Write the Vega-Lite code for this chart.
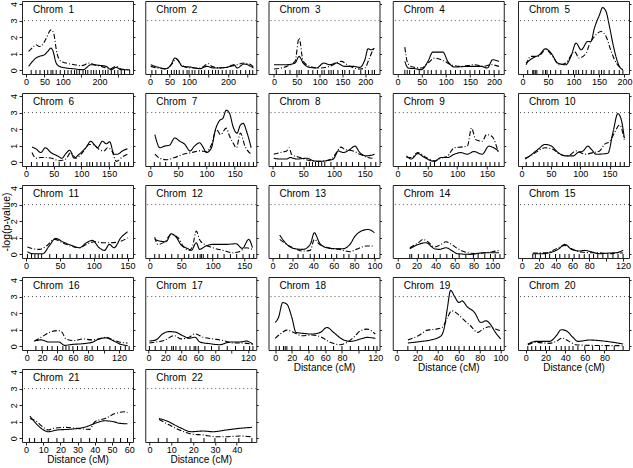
{
"$schema":"https://vega.github.io/schema/vega-lite/v6.json",
"padding":{"left":0,"top":0,"right":0,"bottom":0},
"config":{
 "font":"Liberation Sans",
 "view":{"stroke":"#222","strokeWidth":1},
 "axis":{"grid":false,"domain":false,"tickColor":"#222","tickSize":3,"labelFontSize":9,"labelColor":"#000","labelFont":"Liberation Sans","titleFont":"Liberation Sans","titleFontWeight":"normal","titleFontSize":10.5,"titleColor":"#000","labelPadding":1,"labelFlush":false,"labelOverlap":false},
 "axisX":{"labelPadding":0.5,"titlePadding":0,"titleFontSize":10,"labelOverlap":false,"labelSeparation":-20},
 "axisLeft":{"labelAngle":-90,"labelAlign":"center","labelBaseline":"bottom","labelPadding":1,"titlePadding":-2},
 "title":{"anchor":"start","frame":"group","orient":"top","offset":-14,"fontSize":10,"fontWeight":"normal","color":"#000","font":"Liberation Sans","baseline":"bottom"}
},
"datasets":{
"curves":[
{"c":1,"s":"a","p":7,"v":0.24},{"c":1,"s":"a","p":27,"v":0.74},{"c":1,"s":"a","p":36,"v":0.84},{"c":1,"s":"a","p":50,"v":0.94},{"c":1,"s":"a","p":59,"v":1.14},{"c":1,"s":"a","p":68,"v":1.34},{"c":1,"s":"a","p":73,"v":1.18},{"c":1,"s":"a","p":82,"v":0.44},{"c":1,"s":"a","p":91,"v":0.24},{"c":1,"s":"a","p":109,"v":0.14},{"c":1,"s":"a","p":127,"v":0.1},{"c":1,"s":"a","p":155,"v":0.04},{"c":1,"s":"a","p":177,"v":0.34},{"c":1,"s":"a","p":200,"v":0.3},{"c":1,"s":"a","p":218,"v":0.24},{"c":1,"s":"a","p":232,"v":0.04},{"c":1,"s":"a","p":245,"v":0.18},{"c":1,"s":"a","p":259,"v":0.04},{"c":1,"s":"a","p":282,"v":0.03},
{"c":1,"s":"b","p":7,"v":1.14},{"c":1,"s":"b","p":18,"v":1.38},{"c":1,"s":"b","p":27,"v":1.54},{"c":1,"s":"b","p":36,"v":1.44},{"c":1,"s":"b","p":45,"v":1.54},{"c":1,"s":"b","p":55,"v":1.94},{"c":1,"s":"b","p":68,"v":2.44},{"c":1,"s":"b","p":75,"v":2.24},{"c":1,"s":"b","p":84,"v":1.04},{"c":1,"s":"b","p":95,"v":0.54},{"c":1,"s":"b","p":109,"v":0.44},{"c":1,"s":"b","p":132,"v":0.34},{"c":1,"s":"b","p":150,"v":0.28},{"c":1,"s":"b","p":173,"v":0.44},{"c":1,"s":"b","p":186,"v":0.34},{"c":1,"s":"b","p":205,"v":0.24},{"c":1,"s":"b","p":227,"v":0.08},{"c":1,"s":"b","p":245,"v":0.24},{"c":1,"s":"b","p":259,"v":0.08},{"c":1,"s":"b","p":282,"v":0.03},
{"c":2,"s":"a","p":2,"v":0.34},{"c":2,"s":"a","p":19,"v":0.2},{"c":2,"s":"a","p":41,"v":0.1},{"c":2,"s":"a","p":54,"v":0.34},{"c":2,"s":"a","p":64,"v":0.74},{"c":2,"s":"a","p":71,"v":0.64},{"c":2,"s":"a","p":83,"v":0.24},{"c":2,"s":"a","p":102,"v":0.2},{"c":2,"s":"a","p":128,"v":0.1},{"c":2,"s":"a","p":145,"v":0.24},{"c":2,"s":"a","p":163,"v":0.14},{"c":2,"s":"a","p":197,"v":0.18},{"c":2,"s":"a","p":215,"v":0.34},{"c":2,"s":"a","p":223,"v":0.14},{"c":2,"s":"a","p":241,"v":0.38},{"c":2,"s":"a","p":258,"v":0.24},{"c":2,"s":"a","p":265,"v":0.14},
{"c":2,"s":"b","p":2,"v":0.24},{"c":2,"s":"b","p":41,"v":0.08},{"c":2,"s":"b","p":58,"v":0.44},{"c":2,"s":"b","p":67,"v":0.7},{"c":2,"s":"b","p":80,"v":0.34},{"c":2,"s":"b","p":102,"v":0.14},{"c":2,"s":"b","p":128,"v":0.14},{"c":2,"s":"b","p":150,"v":0.4},{"c":2,"s":"b","p":158,"v":0.24},{"c":2,"s":"b","p":180,"v":0.14},{"c":2,"s":"b","p":206,"v":0.24},{"c":2,"s":"b","p":223,"v":0.34},{"c":2,"s":"b","p":241,"v":0.44},{"c":2,"s":"b","p":258,"v":0.34},{"c":2,"s":"b","p":265,"v":0.18},
{"c":3,"s":"a","p":0,"v":0.34},{"c":3,"s":"a","p":28,"v":0.34},{"c":3,"s":"a","p":46,"v":0.44},{"c":3,"s":"a","p":55,"v":0.84},{"c":3,"s":"a","p":64,"v":0.44},{"c":3,"s":"a","p":75,"v":0.2},{"c":3,"s":"a","p":93,"v":0.14},{"c":3,"s":"a","p":109,"v":0.44},{"c":3,"s":"a","p":122,"v":0.34},{"c":3,"s":"a","p":137,"v":0.44},{"c":3,"s":"a","p":155,"v":0.24},{"c":3,"s":"a","p":173,"v":0.24},{"c":3,"s":"a","p":188,"v":0.18},{"c":3,"s":"a","p":199,"v":0.64},{"c":3,"s":"a","p":206,"v":1.3},{"c":3,"s":"a","p":213,"v":1.24},{"c":3,"s":"a","p":220,"v":1.34},
{"c":3,"s":"b","p":0,"v":0.08},{"c":3,"s":"b","p":28,"v":0.24},{"c":3,"s":"b","p":46,"v":0.54},{"c":3,"s":"b","p":55,"v":1.94},{"c":3,"s":"b","p":64,"v":0.54},{"c":3,"s":"b","p":79,"v":0.24},{"c":3,"s":"b","p":100,"v":0.14},{"c":3,"s":"b","p":122,"v":0.24},{"c":3,"s":"b","p":147,"v":0.54},{"c":3,"s":"b","p":166,"v":0.24},{"c":3,"s":"b","p":188,"v":0.08},{"c":3,"s":"b","p":199,"v":0.14},{"c":3,"s":"b","p":209,"v":0.74},{"c":3,"s":"b","p":217,"v":1.24},{"c":3,"s":"b","p":220,"v":1.34},
{"c":4,"s":"a","p":15,"v":0.54},{"c":4,"s":"a","p":22,"v":0.14},{"c":4,"s":"a","p":36,"v":0.1},{"c":4,"s":"a","p":49,"v":0.04},{"c":4,"s":"a","p":63,"v":0.54},{"c":4,"s":"a","p":73,"v":1.1},{"c":4,"s":"a","p":94,"v":1.1},{"c":4,"s":"a","p":104,"v":0.54},{"c":4,"s":"a","p":118,"v":0.2},{"c":4,"s":"a","p":145,"v":0.24},{"c":4,"s":"a","p":173,"v":0.24},{"c":4,"s":"a","p":186,"v":0.14},{"c":4,"s":"a","p":197,"v":0.64},{"c":4,"s":"a","p":210,"v":0.54},
{"c":4,"s":"b","p":15,"v":1.4},{"c":4,"s":"b","p":21,"v":0.44},{"c":4,"s":"b","p":32,"v":0.2},{"c":4,"s":"b","p":49,"v":0.14},{"c":4,"s":"b","p":63,"v":0.44},{"c":4,"s":"b","p":77,"v":0.74},{"c":4,"s":"b","p":94,"v":0.6},{"c":4,"s":"b","p":111,"v":0.34},{"c":4,"s":"b","p":132,"v":0.24},{"c":4,"s":"b","p":159,"v":0.34},{"c":4,"s":"b","p":179,"v":0.24},{"c":4,"s":"b","p":193,"v":0.34},{"c":4,"s":"b","p":210,"v":0.24},
{"c":5,"s":"a","p":7,"v":0.44},{"c":5,"s":"a","p":20,"v":0.74},{"c":5,"s":"a","p":33,"v":0.94},{"c":5,"s":"a","p":45,"v":1.3},{"c":5,"s":"a","p":56,"v":1.04},{"c":5,"s":"a","p":69,"v":0.44},{"c":5,"s":"a","p":85,"v":0.34},{"c":5,"s":"a","p":95,"v":0.84},{"c":5,"s":"a","p":105,"v":1.64},{"c":5,"s":"a","p":115,"v":1.24},{"c":5,"s":"a","p":128,"v":1.74},{"c":5,"s":"a","p":134,"v":1.74},{"c":5,"s":"a","p":141,"v":2.54},{"c":5,"s":"a","p":151,"v":3.34},{"c":5,"s":"a","p":157,"v":3.78},{"c":5,"s":"a","p":164,"v":3.54},{"c":5,"s":"a","p":170,"v":2.74},{"c":5,"s":"a","p":180,"v":1.24},{"c":5,"s":"a","p":190,"v":0.24},{"c":5,"s":"a","p":197,"v":0.04},
{"c":5,"s":"b","p":7,"v":0.34},{"c":5,"s":"b","p":16,"v":0.84},{"c":5,"s":"b","p":30,"v":0.84},{"c":5,"s":"b","p":46,"v":1.24},{"c":5,"s":"b","p":59,"v":0.84},{"c":5,"s":"b","p":72,"v":0.34},{"c":5,"s":"b","p":85,"v":0.44},{"c":5,"s":"b","p":102,"v":1.14},{"c":5,"s":"b","p":111,"v":0.74},{"c":5,"s":"b","p":125,"v":1.04},{"c":5,"s":"b","p":131,"v":1.54},{"c":5,"s":"b","p":144,"v":2.14},{"c":5,"s":"b","p":154,"v":2.34},{"c":5,"s":"b","p":164,"v":2.04},{"c":5,"s":"b","p":174,"v":1.14},{"c":5,"s":"b","p":184,"v":0.44},{"c":5,"s":"b","p":193,"v":0.14},
{"c":6,"s":"a","p":11,"v":0.92},{"c":6,"s":"a","p":18,"v":0.82},{"c":6,"s":"a","p":27,"v":0.59},{"c":6,"s":"a","p":35,"v":0.88},{"c":6,"s":"a","p":45,"v":0.59},{"c":6,"s":"a","p":57,"v":0.39},{"c":6,"s":"a","p":65,"v":0.25},{"c":6,"s":"a","p":72,"v":0.53},{"c":6,"s":"a","p":79,"v":0.73},{"c":6,"s":"a","p":87,"v":0.25},{"c":6,"s":"a","p":96,"v":0.49},{"c":6,"s":"a","p":108,"v":0.88},{"c":6,"s":"a","p":117,"v":1.27},{"c":6,"s":"a","p":123,"v":1.08},{"c":6,"s":"a","p":129,"v":0.88},{"c":6,"s":"a","p":138,"v":1.27},{"c":6,"s":"a","p":145,"v":1.12},{"c":6,"s":"a","p":151,"v":1.24},{"c":6,"s":"a","p":159,"v":0.49},{"c":6,"s":"a","p":165,"v":0.49},{"c":6,"s":"a","p":174,"v":0.69},{"c":6,"s":"a","p":183,"v":0.82},
{"c":6,"s":"b","p":11,"v":0.59},{"c":6,"s":"b","p":18,"v":0.25},{"c":6,"s":"b","p":27,"v":0.29},{"c":6,"s":"b","p":36,"v":0.29},{"c":6,"s":"b","p":48,"v":0.23},{"c":6,"s":"b","p":60,"v":0.1},{"c":6,"s":"b","p":72,"v":0.2},{"c":6,"s":"b","p":81,"v":0.59},{"c":6,"s":"b","p":90,"v":0.25},{"c":6,"s":"b","p":102,"v":0.59},{"c":6,"s":"b","p":114,"v":1.08},{"c":6,"s":"b","p":123,"v":1.04},{"c":6,"s":"b","p":132,"v":0.78},{"c":6,"s":"b","p":141,"v":0.69},{"c":6,"s":"b","p":147,"v":0.88},{"c":6,"s":"b","p":155,"v":0.69},{"c":6,"s":"b","p":163,"v":0.06},{"c":6,"s":"b","p":174,"v":0.33},{"c":6,"s":"b","p":183,"v":0.49},
{"c":7,"s":"a","p":9,"v":1.67},{"c":7,"s":"a","p":18,"v":0.88},{"c":7,"s":"a","p":26,"v":0.98},{"c":7,"s":"a","p":35,"v":1.04},{"c":7,"s":"a","p":44,"v":1.47},{"c":7,"s":"a","p":53,"v":1.27},{"c":7,"s":"a","p":62,"v":1.08},{"c":7,"s":"a","p":71,"v":0.69},{"c":7,"s":"a","p":79,"v":0.98},{"c":7,"s":"a","p":88,"v":1.18},{"c":7,"s":"a","p":94,"v":0.92},{"c":7,"s":"a","p":100,"v":0.59},{"c":7,"s":"a","p":109,"v":0.88},{"c":7,"s":"a","p":115,"v":1.86},{"c":7,"s":"a","p":124,"v":2.55},{"c":7,"s":"a","p":129,"v":2.65},{"c":7,"s":"a","p":135,"v":3.14},{"c":7,"s":"a","p":141,"v":2.94},{"c":7,"s":"a","p":147,"v":2.16},{"c":7,"s":"a","p":154,"v":1.76},{"c":7,"s":"a","p":160,"v":2.25},{"c":7,"s":"a","p":165,"v":2.35},{"c":7,"s":"a","p":171,"v":1.86},{"c":7,"s":"a","p":179,"v":0.88},
{"c":7,"s":"b","p":9,"v":0.49},{"c":7,"s":"b","p":18,"v":0.24},{"c":7,"s":"b","p":29,"v":0.16},{"c":7,"s":"b","p":44,"v":0.29},{"c":7,"s":"b","p":59,"v":0.49},{"c":7,"s":"b","p":74,"v":0.59},{"c":7,"s":"b","p":88,"v":0.69},{"c":7,"s":"b","p":100,"v":0.65},{"c":7,"s":"b","p":109,"v":1.08},{"c":7,"s":"b","p":118,"v":1.96},{"c":7,"s":"b","p":125,"v":1.67},{"c":7,"s":"b","p":135,"v":2.06},{"c":7,"s":"b","p":141,"v":1.57},{"c":7,"s":"b","p":147,"v":1.18},{"c":7,"s":"b","p":153,"v":0.88},{"c":7,"s":"b","p":160,"v":1.76},{"c":7,"s":"b","p":168,"v":0.98},{"c":7,"s":"b","p":179,"v":0.49},
{"c":8,"s":"a","p":2,"v":0.25},{"c":8,"s":"a","p":12,"v":0.2},{"c":8,"s":"a","p":23,"v":0.2},{"c":8,"s":"a","p":29,"v":0.29},{"c":8,"s":"a","p":39,"v":0.2},{"c":8,"s":"a","p":56,"v":0.25},{"c":8,"s":"a","p":66,"v":0.1},{"c":8,"s":"a","p":77,"v":0.06},{"c":8,"s":"a","p":88,"v":0.1},{"c":8,"s":"a","p":99,"v":0.2},{"c":8,"s":"a","p":107,"v":0.69},{"c":8,"s":"a","p":115,"v":0.59},{"c":8,"s":"a","p":126,"v":0.78},{"c":8,"s":"a","p":134,"v":0.98},{"c":8,"s":"a","p":142,"v":0.59},{"c":8,"s":"a","p":153,"v":0.39},{"c":8,"s":"a","p":166,"v":0.49},
{"c":8,"s":"b","p":2,"v":0.49},{"c":8,"s":"b","p":12,"v":0.59},{"c":8,"s":"b","p":23,"v":0.69},{"c":8,"s":"b","p":27,"v":0.88},{"c":8,"s":"b","p":31,"v":0.49},{"c":8,"s":"b","p":45,"v":0.29},{"c":8,"s":"b","p":61,"v":0.1},{"c":8,"s":"b","p":77,"v":0.06},{"c":8,"s":"b","p":96,"v":0.2},{"c":8,"s":"b","p":104,"v":0.59},{"c":8,"s":"b","p":111,"v":0.92},{"c":8,"s":"b","p":118,"v":0.78},{"c":8,"s":"b","p":131,"v":0.69},{"c":8,"s":"b","p":142,"v":0.49},{"c":8,"s":"b","p":155,"v":0.29},{"c":8,"s":"b","p":166,"v":0.24},
{"c":9,"s":"a","p":15,"v":0.39},{"c":9,"s":"a","p":23,"v":0.2},{"c":9,"s":"a","p":34,"v":0.53},{"c":9,"s":"a","p":45,"v":0.29},{"c":9,"s":"a","p":62,"v":0.06},{"c":9,"s":"a","p":73,"v":0.29},{"c":9,"s":"a","p":84,"v":0.29},{"c":9,"s":"a","p":95,"v":0.49},{"c":9,"s":"a","p":106,"v":0.59},{"c":9,"s":"a","p":117,"v":0.49},{"c":9,"s":"a","p":128,"v":0.65},{"c":9,"s":"a","p":142,"v":0.49},{"c":9,"s":"a","p":153,"v":0.98},{"c":9,"s":"a","p":161,"v":0.88},{"c":9,"s":"a","p":169,"v":0.69},
{"c":9,"s":"b","p":15,"v":0.29},{"c":9,"s":"b","p":23,"v":0.29},{"c":9,"s":"b","p":34,"v":0.59},{"c":9,"s":"b","p":48,"v":0.29},{"c":9,"s":"b","p":62,"v":0.1},{"c":9,"s":"b","p":73,"v":0.25},{"c":9,"s":"b","p":84,"v":0.39},{"c":9,"s":"b","p":95,"v":0.88},{"c":9,"s":"b","p":106,"v":0.92},{"c":9,"s":"b","p":117,"v":0.98},{"c":9,"s":"b","p":124,"v":2.06},{"c":9,"s":"b","p":131,"v":1.37},{"c":9,"s":"b","p":142,"v":1.27},{"c":9,"s":"b","p":149,"v":1.67},{"c":9,"s":"b","p":158,"v":1.57},{"c":9,"s":"b","p":169,"v":0.59},
{"c":10,"s":"a","p":6,"v":0.2},{"c":10,"s":"a","p":14,"v":0.39},{"c":10,"s":"a","p":28,"v":0.78},{"c":10,"s":"a","p":40,"v":1.08},{"c":10,"s":"a","p":51,"v":0.98},{"c":10,"s":"a","p":62,"v":0.59},{"c":10,"s":"a","p":76,"v":0.39},{"c":10,"s":"a","p":88,"v":0.39},{"c":10,"s":"a","p":96,"v":0.59},{"c":10,"s":"a","p":105,"v":0.69},{"c":10,"s":"a","p":113,"v":0.98},{"c":10,"s":"a","p":119,"v":0.78},{"c":10,"s":"a","p":127,"v":0.49},{"c":10,"s":"a","p":147,"v":0.55},{"c":10,"s":"a","p":156,"v":1.86},{"c":10,"s":"a","p":164,"v":2.94},{"c":10,"s":"a","p":170,"v":2.55},{"c":10,"s":"a","p":175,"v":1.47},
{"c":10,"s":"b","p":6,"v":0.24},{"c":10,"s":"b","p":17,"v":0.43},{"c":10,"s":"b","p":28,"v":0.69},{"c":10,"s":"b","p":40,"v":0.88},{"c":10,"s":"b","p":54,"v":0.78},{"c":10,"s":"b","p":65,"v":0.49},{"c":10,"s":"b","p":79,"v":0.39},{"c":10,"s":"b","p":93,"v":0.69},{"c":10,"s":"b","p":108,"v":0.49},{"c":10,"s":"b","p":122,"v":0.59},{"c":10,"s":"b","p":133,"v":0.69},{"c":10,"s":"b","p":141,"v":1.08},{"c":10,"s":"b","p":150,"v":1.27},{"c":10,"s":"b","p":158,"v":1.76},{"c":10,"s":"b","p":167,"v":2.25},{"c":10,"s":"b","p":175,"v":1.37},
{"c":11,"s":"a","p":2,"v":0.16},{"c":11,"s":"a","p":10,"v":0.04},{"c":11,"s":"a","p":17,"v":0.04},{"c":11,"s":"a","p":25,"v":0.04},{"c":11,"s":"a","p":34,"v":0.5},{"c":11,"s":"a","p":44,"v":0.96},{"c":11,"s":"a","p":54,"v":0.76},{"c":11,"s":"a","p":66,"v":0.56},{"c":11,"s":"a","p":79,"v":0.4},{"c":11,"s":"a","p":89,"v":0.7},{"c":11,"s":"a","p":98,"v":0.84},{"c":11,"s":"a","p":108,"v":0.4},{"c":11,"s":"a","p":116,"v":0.24},{"c":11,"s":"a","p":123,"v":0.6},{"c":11,"s":"a","p":130,"v":0.4},{"c":11,"s":"a","p":140,"v":1.0},{"c":11,"s":"a","p":150,"v":1.36},
{"c":11,"s":"b","p":2,"v":0.44},{"c":11,"s":"b","p":10,"v":0.34},{"c":11,"s":"b","p":20,"v":0.3},{"c":11,"s":"b","p":30,"v":0.5},{"c":11,"s":"b","p":42,"v":0.9},{"c":11,"s":"b","p":54,"v":0.7},{"c":11,"s":"b","p":66,"v":0.5},{"c":11,"s":"b","p":79,"v":0.4},{"c":11,"s":"b","p":89,"v":0.6},{"c":11,"s":"b","p":101,"v":0.76},{"c":11,"s":"b","p":113,"v":0.7},{"c":11,"s":"b","p":125,"v":0.7},{"c":11,"s":"b","p":138,"v":0.76},{"c":11,"s":"b","p":150,"v":1.0},
{"c":12,"s":"a","p":8,"v":0.9},{"c":12,"s":"a","p":16,"v":0.8},{"c":12,"s":"a","p":26,"v":0.76},{"c":12,"s":"a","p":34,"v":1.24},{"c":12,"s":"a","p":42,"v":1.04},{"c":12,"s":"a","p":50,"v":0.56},{"c":12,"s":"a","p":61,"v":0.34},{"c":12,"s":"a","p":66,"v":0.24},{"c":12,"s":"a","p":74,"v":0.7},{"c":12,"s":"a","p":79,"v":0.3},{"c":12,"s":"a","p":89,"v":0.5},{"c":12,"s":"a","p":100,"v":0.6},{"c":12,"s":"a","p":121,"v":0.6},{"c":12,"s":"a","p":137,"v":0.64},{"c":12,"s":"a","p":147,"v":0.36},{"c":12,"s":"a","p":157,"v":0.9},{"c":12,"s":"a","p":163,"v":0.4},
{"c":12,"s":"b","p":8,"v":1.04},{"c":12,"s":"b","p":13,"v":0.6},{"c":12,"s":"b","p":24,"v":0.76},{"c":12,"s":"b","p":34,"v":1.2},{"c":12,"s":"b","p":45,"v":1.0},{"c":12,"s":"b","p":53,"v":0.5},{"c":12,"s":"b","p":63,"v":0.24},{"c":12,"s":"b","p":68,"v":0.5},{"c":12,"s":"b","p":74,"v":1.4},{"c":12,"s":"b","p":79,"v":0.9},{"c":12,"s":"b","p":87,"v":0.6},{"c":12,"s":"b","p":100,"v":0.4},{"c":12,"s":"b","p":116,"v":0.24},{"c":12,"s":"b","p":132,"v":0.1},{"c":12,"s":"b","p":142,"v":0.16},{"c":12,"s":"b","p":153,"v":0.4},{"c":12,"s":"b","p":163,"v":0.3},
{"c":13,"s":"a","p":7,"v":1.16},{"c":13,"s":"a","p":14,"v":0.6},{"c":13,"s":"a","p":22,"v":0.34},{"c":13,"s":"a","p":30,"v":0.3},{"c":13,"s":"a","p":37,"v":0.6},{"c":13,"s":"a","p":41,"v":1.3},{"c":13,"s":"a","p":46,"v":0.7},{"c":13,"s":"a","p":53,"v":0.4},{"c":13,"s":"a","p":61,"v":0.34},{"c":13,"s":"a","p":69,"v":0.34},{"c":13,"s":"a","p":76,"v":0.6},{"c":13,"s":"a","p":81,"v":1.1},{"c":13,"s":"a","p":87,"v":1.4},{"c":13,"s":"a","p":94,"v":1.5},{"c":13,"s":"a","p":100,"v":1.3},
{"c":13,"s":"b","p":7,"v":0.9},{"c":13,"s":"b","p":14,"v":0.6},{"c":13,"s":"b","p":22,"v":0.34},{"c":13,"s":"b","p":30,"v":0.2},{"c":13,"s":"b","p":37,"v":0.24},{"c":13,"s":"b","p":41,"v":0.9},{"c":13,"s":"b","p":46,"v":0.6},{"c":13,"s":"b","p":55,"v":0.4},{"c":13,"s":"b","p":66,"v":0.3},{"c":13,"s":"b","p":76,"v":0.16},{"c":13,"s":"b","p":82,"v":0.3},{"c":13,"s":"b","p":92,"v":0.5},{"c":13,"s":"b","p":100,"v":0.5},
{"c":14,"s":"a","p":13,"v":0.34},{"c":14,"s":"a","p":22,"v":0.6},{"c":14,"s":"a","p":30,"v":0.7},{"c":14,"s":"a","p":39,"v":0.34},{"c":14,"s":"a","p":44,"v":0.3},{"c":14,"s":"a","p":51,"v":0.4},{"c":14,"s":"a","p":58,"v":0.2},{"c":14,"s":"a","p":63,"v":0.04},{"c":14,"s":"a","p":77,"v":0.0},{"c":14,"s":"a","p":88,"v":0.08},{"c":14,"s":"a","p":102,"v":0.1},{"c":14,"s":"a","p":107,"v":0.1},
{"c":14,"s":"b","p":13,"v":0.4},{"c":14,"s":"b","p":22,"v":0.7},{"c":14,"s":"b","p":27,"v":0.9},{"c":14,"s":"b","p":32,"v":0.76},{"c":14,"s":"b","p":39,"v":0.44},{"c":14,"s":"b","p":46,"v":0.6},{"c":14,"s":"b","p":51,"v":0.76},{"c":14,"s":"b","p":56,"v":0.64},{"c":14,"s":"b","p":63,"v":0.36},{"c":14,"s":"b","p":74,"v":0.1},{"c":14,"s":"b","p":83,"v":0.04},{"c":14,"s":"b","p":91,"v":0.1},{"c":14,"s":"b","p":100,"v":0.16},{"c":14,"s":"b","p":107,"v":0.24},
{"c":15,"s":"a","p":13,"v":0.04},{"c":15,"s":"a","p":25,"v":0.04},{"c":15,"s":"a","p":33,"v":0.1},{"c":15,"s":"a","p":43,"v":0.3},{"c":15,"s":"a","p":51,"v":0.6},{"c":15,"s":"a","p":59,"v":0.3},{"c":15,"s":"a","p":69,"v":0.2},{"c":15,"s":"a","p":74,"v":0.24},{"c":15,"s":"a","p":82,"v":0.16},{"c":15,"s":"a","p":92,"v":0.04},{"c":15,"s":"a","p":104,"v":0.08},{"c":15,"s":"a","p":112,"v":0.1},{"c":15,"s":"a","p":120,"v":0.24},
{"c":15,"s":"b","p":13,"v":0.08},{"c":15,"s":"b","p":29,"v":0.1},{"c":15,"s":"b","p":41,"v":0.34},{"c":15,"s":"b","p":51,"v":0.54},{"c":15,"s":"b","p":59,"v":0.34},{"c":15,"s":"b","p":70,"v":0.14},{"c":15,"s":"b","p":80,"v":0.1},{"c":15,"s":"b","p":92,"v":0.1},{"c":15,"s":"b","p":104,"v":0.04},{"c":15,"s":"b","p":114,"v":0.08},{"c":15,"s":"b","p":120,"v":0.08},
{"c":16,"s":"a","p":10,"v":0.32},{"c":16,"s":"a","p":19,"v":0.39},{"c":16,"s":"a","p":29,"v":0.26},{"c":16,"s":"a","p":42,"v":0.26},{"c":16,"s":"a","p":49,"v":0.06},{"c":16,"s":"a","p":60,"v":0.12},{"c":16,"s":"a","p":73,"v":0.16},{"c":16,"s":"a","p":86,"v":0.26},{"c":16,"s":"a","p":94,"v":0.45},{"c":16,"s":"a","p":103,"v":0.51},{"c":16,"s":"a","p":112,"v":0.35},{"c":16,"s":"a","p":120,"v":0.16},{"c":16,"s":"a","p":131,"v":0.04},
{"c":16,"s":"b","p":10,"v":0.32},{"c":16,"s":"b","p":19,"v":0.55},{"c":16,"s":"b","p":29,"v":0.83},{"c":16,"s":"b","p":40,"v":0.95},{"c":16,"s":"b","p":45,"v":0.9},{"c":16,"s":"b","p":51,"v":0.45},{"c":16,"s":"b","p":62,"v":0.35},{"c":16,"s":"b","p":73,"v":0.45},{"c":16,"s":"b","p":84,"v":0.39},{"c":16,"s":"b","p":94,"v":0.45},{"c":16,"s":"b","p":103,"v":0.55},{"c":16,"s":"b","p":112,"v":0.39},{"c":16,"s":"b","p":120,"v":0.26},{"c":16,"s":"b","p":131,"v":0.2},
{"c":17,"s":"a","p":1,"v":0.32},{"c":17,"s":"a","p":9,"v":0.39},{"c":17,"s":"a","p":17,"v":0.75},{"c":17,"s":"a","p":25,"v":0.89},{"c":17,"s":"a","p":33,"v":0.85},{"c":17,"s":"a","p":41,"v":0.65},{"c":17,"s":"a","p":49,"v":0.49},{"c":17,"s":"a","p":56,"v":0.55},{"c":17,"s":"a","p":62,"v":0.26},{"c":17,"s":"a","p":74,"v":0.16},{"c":17,"s":"a","p":86,"v":0.1},{"c":17,"s":"a","p":98,"v":0.26},{"c":17,"s":"a","p":110,"v":0.26},{"c":17,"s":"a","p":118,"v":0.32},{"c":17,"s":"a","p":126,"v":0.12},
{"c":17,"s":"b","p":1,"v":0.2},{"c":17,"s":"b","p":9,"v":0.26},{"c":17,"s":"b","p":19,"v":0.35},{"c":17,"s":"b","p":31,"v":0.65},{"c":17,"s":"b","p":39,"v":0.45},{"c":17,"s":"b","p":49,"v":0.55},{"c":17,"s":"b","p":56,"v":0.75},{"c":17,"s":"b","p":66,"v":0.55},{"c":17,"s":"b","p":78,"v":0.45},{"c":17,"s":"b","p":90,"v":0.35},{"c":17,"s":"b","p":102,"v":0.2},{"c":17,"s":"b","p":114,"v":0.2},{"c":17,"s":"b","p":126,"v":0.12},
{"c":18,"s":"a","p":0,"v":1.44},{"c":18,"s":"a","p":4,"v":1.74},{"c":18,"s":"a","p":9,"v":2.64},{"c":18,"s":"a","p":14,"v":2.54},{"c":18,"s":"a","p":20,"v":1.74},{"c":18,"s":"a","p":25,"v":0.84},{"c":18,"s":"a","p":34,"v":0.78},{"c":18,"s":"a","p":44,"v":0.74},{"c":18,"s":"a","p":54,"v":0.84},{"c":18,"s":"a","p":62,"v":1.14},{"c":18,"s":"a","p":70,"v":0.84},{"c":18,"s":"a","p":80,"v":0.44},{"c":18,"s":"a","p":90,"v":0.3},{"c":18,"s":"a","p":102,"v":0.44},{"c":18,"s":"a","p":110,"v":0.54},{"c":18,"s":"a","p":120,"v":0.48},
{"c":18,"s":"b","p":0,"v":0.48},{"c":18,"s":"b","p":6,"v":0.74},{"c":18,"s":"b","p":14,"v":0.98},{"c":18,"s":"b","p":22,"v":0.84},{"c":18,"s":"b","p":32,"v":0.64},{"c":18,"s":"b","p":44,"v":0.68},{"c":18,"s":"b","p":56,"v":0.54},{"c":18,"s":"b","p":66,"v":0.24},{"c":18,"s":"b","p":78,"v":0.1},{"c":18,"s":"b","p":86,"v":0.24},{"c":18,"s":"b","p":94,"v":0.54},{"c":18,"s":"b","p":102,"v":0.94},{"c":18,"s":"b","p":110,"v":1.04},{"c":18,"s":"b","p":120,"v":0.74},
{"c":19,"s":"a","p":11,"v":0.2},{"c":19,"s":"a","p":24,"v":0.3},{"c":19,"s":"a","p":33,"v":0.38},{"c":19,"s":"a","p":43,"v":0.64},{"c":19,"s":"a","p":46,"v":1.14},{"c":19,"s":"a","p":49,"v":2.34},{"c":19,"s":"a","p":52,"v":3.38},{"c":19,"s":"a","p":56,"v":2.98},{"c":19,"s":"a","p":60,"v":2.64},{"c":19,"s":"a","p":63,"v":2.74},{"c":19,"s":"a","p":68,"v":2.38},{"c":19,"s":"a","p":75,"v":2.04},{"c":19,"s":"a","p":81,"v":1.44},{"c":19,"s":"a","p":86,"v":1.54},{"c":19,"s":"a","p":90,"v":1.34},{"c":19,"s":"a","p":95,"v":0.84},{"c":19,"s":"a","p":100,"v":0.44},
{"c":19,"s":"b","p":11,"v":0.38},{"c":19,"s":"b","p":21,"v":0.64},{"c":19,"s":"b","p":30,"v":0.98},{"c":19,"s":"b","p":38,"v":1.04},{"c":19,"s":"b","p":44,"v":1.14},{"c":19,"s":"b","p":49,"v":1.74},{"c":19,"s":"b","p":53,"v":2.14},{"c":19,"s":"b","p":59,"v":1.94},{"c":19,"s":"b","p":65,"v":1.58},{"c":19,"s":"b","p":71,"v":1.24},{"c":19,"s":"b","p":78,"v":0.84},{"c":19,"s":"b","p":83,"v":1.04},{"c":19,"s":"b","p":89,"v":1.18},{"c":19,"s":"b","p":95,"v":1.04},{"c":19,"s":"b","p":100,"v":0.94},
{"c":20,"s":"a","p":2,"v":0.14},{"c":20,"s":"a","p":10,"v":0.3},{"c":20,"s":"a","p":24,"v":0.3},{"c":20,"s":"a","p":31,"v":0.64},{"c":20,"s":"a","p":36,"v":1.0},{"c":20,"s":"a","p":41,"v":0.94},{"c":20,"s":"a","p":48,"v":0.54},{"c":20,"s":"a","p":53,"v":0.3},{"c":20,"s":"a","p":65,"v":0.38},{"c":20,"s":"a","p":82,"v":0.3},{"c":20,"s":"a","p":99,"v":0.14},
{"c":20,"s":"b","p":2,"v":0.1},{"c":20,"s":"b","p":10,"v":0.24},{"c":20,"s":"b","p":24,"v":0.18},{"c":20,"s":"b","p":31,"v":0.3},{"c":20,"s":"b","p":37,"v":0.5},{"c":20,"s":"b","p":44,"v":0.3},{"c":20,"s":"b","p":51,"v":0.1},{"c":20,"s":"b","p":65,"v":0.06},{"c":20,"s":"b","p":99,"v":0.04},
{"c":21,"s":"a","p":2.3,"v":1.34},{"c":21,"s":"a","p":5.8,"v":0.9},{"c":21,"s":"a","p":9.7,"v":0.54},{"c":21,"s":"a","p":13,"v":0.4},{"c":21,"s":"a","p":18,"v":0.5},{"c":21,"s":"a","p":27,"v":0.56},{"c":21,"s":"a","p":35,"v":0.7},{"c":21,"s":"a","p":41,"v":0.94},{"c":21,"s":"a","p":46,"v":1.06},{"c":21,"s":"a","p":51,"v":1.0},{"c":21,"s":"a","p":55,"v":0.9},{"c":21,"s":"a","p":59,"v":0.88},
{"c":21,"s":"b","p":2.3,"v":1.2},{"c":21,"s":"b","p":5.8,"v":1.04},{"c":21,"s":"b","p":9.7,"v":0.7},{"c":21,"s":"b","p":13,"v":0.5},{"c":21,"s":"b","p":15.5,"v":0.6},{"c":21,"s":"b","p":23,"v":0.66},{"c":21,"s":"b","p":30,"v":0.6},{"c":21,"s":"b","p":37,"v":0.54},{"c":21,"s":"b","p":40,"v":1.0},{"c":21,"s":"b","p":46,"v":1.2},{"c":21,"s":"b","p":52,"v":1.5},{"c":21,"s":"b","p":57,"v":1.6},{"c":21,"s":"b","p":59,"v":1.56},
{"c":22,"s":"a","p":4.3,"v":1.2},{"c":22,"s":"a","p":7.7,"v":1.06},{"c":22,"s":"a","p":13.8,"v":0.66},{"c":22,"s":"a","p":19.2,"v":0.4},{"c":22,"s":"a","p":24.6,"v":0.44},{"c":22,"s":"a","p":29,"v":0.4},{"c":22,"s":"a","p":35,"v":0.5},{"c":22,"s":"a","p":41,"v":0.6},{"c":22,"s":"a","p":47,"v":0.66},
{"c":22,"s":"b","p":4.3,"v":1.14},{"c":22,"s":"b","p":7.7,"v":0.9},{"c":22,"s":"b","p":13.8,"v":0.5},{"c":22,"s":"b","p":19.2,"v":0.26},{"c":22,"s":"b","p":24.6,"v":0.2},{"c":22,"s":"b","p":30,"v":0.1},{"c":22,"s":"b","p":35,"v":0.1},{"c":22,"s":"b","p":41.5,"v":0.14},{"c":22,"s":"b","p":47,"v":0.1}
],
"markers":[
{"c":1,"p":14},{"c":1,"p":27},{"c":1,"p":38},{"c":1,"p":50},{"c":1,"p":59},{"c":1,"p":68},{"c":1,"p":73},{"c":1,"p":82},{"c":1,"p":93},{"c":1,"p":105},{"c":1,"p":114},{"c":1,"p":123},{"c":1,"p":132},{"c":1,"p":138},{"c":1,"p":145},{"c":1,"p":155},{"c":1,"p":162},{"c":1,"p":168},{"c":1,"p":177},{"c":1,"p":184},{"c":1,"p":191},{"c":1,"p":200},{"c":1,"p":209},{"c":1,"p":216},{"c":1,"p":223},{"c":1,"p":232},{"c":1,"p":241},{"c":1,"p":250},{"c":1,"p":259},{"c":1,"p":268},{"c":1,"p":282},
{"c":2,"p":5},{"c":2,"p":15},{"c":2,"p":30},{"c":2,"p":45},{"c":2,"p":55},{"c":2,"p":62},{"c":2,"p":68},{"c":2,"p":75},{"c":2,"p":85},{"c":2,"p":95},{"c":2,"p":100},{"c":2,"p":108},{"c":2,"p":115},{"c":2,"p":125},{"c":2,"p":132},{"c":2,"p":140},{"c":2,"p":150},{"c":2,"p":160},{"c":2,"p":168},{"c":2,"p":175},{"c":2,"p":185},{"c":2,"p":195},{"c":2,"p":205},{"c":2,"p":212},{"c":2,"p":222},{"c":2,"p":232},{"c":2,"p":245},{"c":2,"p":255},{"c":2,"p":263},
{"c":3,"p":5},{"c":3,"p":25},{"c":3,"p":35},{"c":3,"p":50},{"c":3,"p":55},{"c":3,"p":60},{"c":3,"p":75},{"c":3,"p":85},{"c":3,"p":95},{"c":3,"p":105},{"c":3,"p":110},{"c":3,"p":120},{"c":3,"p":125},{"c":3,"p":130},{"c":3,"p":140},{"c":3,"p":150},{"c":3,"p":155},{"c":3,"p":165},{"c":3,"p":175},{"c":3,"p":190},{"c":3,"p":200},{"c":3,"p":207},{"c":3,"p":215},{"c":3,"p":220},
{"c":4,"p":15},{"c":4,"p":20},{"c":4,"p":25},{"c":4,"p":35},{"c":4,"p":45},{"c":4,"p":55},{"c":4,"p":63},{"c":4,"p":70},{"c":4,"p":80},{"c":4,"p":90},{"c":4,"p":100},{"c":4,"p":110},{"c":4,"p":120},{"c":4,"p":130},{"c":4,"p":140},{"c":4,"p":150},{"c":4,"p":160},{"c":4,"p":170},{"c":4,"p":180},{"c":4,"p":190},{"c":4,"p":200},{"c":4,"p":210},
{"c":5,"p":10},{"c":5,"p":20},{"c":5,"p":22},{"c":5,"p":25},{"c":5,"p":28},{"c":5,"p":40},{"c":5,"p":45},{"c":5,"p":48},{"c":5,"p":55},{"c":5,"p":65},{"c":5,"p":75},{"c":5,"p":90},{"c":5,"p":100},{"c":5,"p":105},{"c":5,"p":110},{"c":5,"p":118},{"c":5,"p":125},{"c":5,"p":135},{"c":5,"p":140},{"c":5,"p":150},{"c":5,"p":155},{"c":5,"p":160},{"c":5,"p":170},{"c":5,"p":180},{"c":5,"p":190},{"c":5,"p":197},
{"c":6,"p":10},{"c":6,"p":20},{"c":6,"p":30},{"c":6,"p":40},{"c":6,"p":50},{"c":6,"p":60},{"c":6,"p":70},{"c":6,"p":80},{"c":6,"p":90},{"c":6,"p":100},{"c":6,"p":110},{"c":6,"p":115},{"c":6,"p":120},{"c":6,"p":128},{"c":6,"p":135},{"c":6,"p":142},{"c":6,"p":150},{"c":6,"p":160},{"c":6,"p":170},{"c":6,"p":178},{"c":6,"p":185},
{"c":7,"p":8},{"c":7,"p":18},{"c":7,"p":28},{"c":7,"p":38},{"c":7,"p":48},{"c":7,"p":58},{"c":7,"p":68},{"c":7,"p":78},{"c":7,"p":88},{"c":7,"p":98},{"c":7,"p":105},{"c":7,"p":112},{"c":7,"p":118},{"c":7,"p":125},{"c":7,"p":132},{"c":7,"p":140},{"c":7,"p":148},{"c":7,"p":155},{"c":7,"p":160},{"c":7,"p":168},{"c":7,"p":175},{"c":7,"p":183},
{"c":8,"p":5},{"c":8,"p":15},{"c":8,"p":28},{"c":8,"p":35},{"c":8,"p":45},{"c":8,"p":55},{"c":8,"p":60},{"c":8,"p":65},{"c":8,"p":70},{"c":8,"p":75},{"c":8,"p":80},{"c":8,"p":85},{"c":8,"p":95},{"c":8,"p":105},{"c":8,"p":112},{"c":8,"p":120},{"c":8,"p":130},{"c":8,"p":140},{"c":8,"p":150},{"c":8,"p":160},{"c":8,"p":168},
{"c":9,"p":15},{"c":9,"p":22},{"c":9,"p":30},{"c":9,"p":38},{"c":9,"p":48},{"c":9,"p":55},{"c":9,"p":62},{"c":9,"p":72},{"c":9,"p":80},{"c":9,"p":88},{"c":9,"p":95},{"c":9,"p":102},{"c":9,"p":110},{"c":9,"p":118},{"c":9,"p":125},{"c":9,"p":132},{"c":9,"p":140},{"c":9,"p":148},{"c":9,"p":155},{"c":9,"p":163},{"c":9,"p":170},
{"c":10,"p":8},{"c":10,"p":20},{"c":10,"p":30},{"c":10,"p":38},{"c":10,"p":45},{"c":10,"p":52},{"c":10,"p":60},{"c":10,"p":70},{"c":10,"p":80},{"c":10,"p":90},{"c":10,"p":95},{"c":10,"p":100},{"c":10,"p":108},{"c":10,"p":115},{"c":10,"p":122},{"c":10,"p":130},{"c":10,"p":138},{"c":10,"p":145},{"c":10,"p":152},{"c":10,"p":160},{"c":10,"p":168},{"c":10,"p":175},
{"c":11,"p":2},{"c":11,"p":8},{"c":11,"p":13},{"c":11,"p":18},{"c":11,"p":23},{"c":11,"p":35},{"c":11,"p":45},{"c":11,"p":55},{"c":11,"p":65},{"c":11,"p":75},{"c":11,"p":85},{"c":11,"p":95},{"c":11,"p":102},{"c":11,"p":108},{"c":11,"p":113},{"c":11,"p":120},{"c":11,"p":128},{"c":11,"p":135},{"c":11,"p":142},{"c":11,"p":150},
{"c":12,"p":8},{"c":12,"p":15},{"c":12,"p":25},{"c":12,"p":35},{"c":12,"p":45},{"c":12,"p":55},{"c":12,"p":62},{"c":12,"p":70},{"c":12,"p":76},{"c":12,"p":80},{"c":12,"p":82},{"c":12,"p":85},{"c":12,"p":92},{"c":12,"p":100},{"c":12,"p":108},{"c":12,"p":118},{"c":12,"p":128},{"c":12,"p":138},{"c":12,"p":148},{"c":12,"p":158},{"c":12,"p":165},
{"c":13,"p":7},{"c":13,"p":15},{"c":13,"p":25},{"c":13,"p":30},{"c":13,"p":37},{"c":13,"p":41},{"c":13,"p":46},{"c":13,"p":52},{"c":13,"p":58},{"c":13,"p":63},{"c":13,"p":70},{"c":13,"p":75},{"c":13,"p":82},{"c":13,"p":88},{"c":13,"p":94},{"c":13,"p":100},
{"c":14,"p":13},{"c":14,"p":15},{"c":14,"p":22},{"c":14,"p":28},{"c":14,"p":32},{"c":14,"p":38},{"c":14,"p":45},{"c":14,"p":52},{"c":14,"p":58},{"c":14,"p":65},{"c":14,"p":72},{"c":14,"p":80},{"c":14,"p":85},{"c":14,"p":92},{"c":14,"p":98},{"c":14,"p":103},{"c":14,"p":108},
{"c":15,"p":13},{"c":15,"p":16},{"c":15,"p":22},{"c":15,"p":28},{"c":15,"p":33},{"c":15,"p":40},{"c":15,"p":45},{"c":15,"p":51},{"c":15,"p":56},{"c":15,"p":62},{"c":15,"p":68},{"c":15,"p":74},{"c":15,"p":80},{"c":15,"p":85},{"c":15,"p":90},{"c":15,"p":96},{"c":15,"p":102},{"c":15,"p":108},{"c":15,"p":114},{"c":15,"p":120},
{"c":16,"p":12},{"c":16,"p":20},{"c":16,"p":27},{"c":16,"p":33},{"c":16,"p":40},{"c":16,"p":47},{"c":16,"p":51},{"c":16,"p":55},{"c":16,"p":60},{"c":16,"p":66},{"c":16,"p":72},{"c":16,"p":78},{"c":16,"p":85},{"c":16,"p":92},{"c":16,"p":100},{"c":16,"p":108},{"c":16,"p":115},{"c":16,"p":122},{"c":16,"p":128},{"c":16,"p":133},
{"c":17,"p":1},{"c":17,"p":8},{"c":17,"p":15},{"c":17,"p":22},{"c":17,"p":28},{"c":17,"p":30},{"c":17,"p":33},{"c":17,"p":38},{"c":17,"p":45},{"c":17,"p":50},{"c":17,"p":55},{"c":17,"p":57},{"c":17,"p":60},{"c":17,"p":68},{"c":17,"p":76},{"c":17,"p":85},{"c":17,"p":95},{"c":17,"p":105},{"c":17,"p":115},{"c":17,"p":122},{"c":17,"p":126},
{"c":18,"p":1},{"c":18,"p":5},{"c":18,"p":10},{"c":18,"p":12},{"c":18,"p":14},{"c":18,"p":20},{"c":18,"p":30},{"c":18,"p":40},{"c":18,"p":50},{"c":18,"p":55},{"c":18,"p":60},{"c":18,"p":70},{"c":18,"p":80},{"c":18,"p":90},{"c":18,"p":100},{"c":18,"p":108},{"c":18,"p":112},{"c":18,"p":118},{"c":18,"p":122},
{"c":19,"p":11},{"c":19,"p":18},{"c":19,"p":25},{"c":19,"p":32},{"c":19,"p":38},{"c":19,"p":44},{"c":19,"p":49},{"c":19,"p":52},{"c":19,"p":56},{"c":19,"p":60},{"c":19,"p":65},{"c":19,"p":70},{"c":19,"p":75},{"c":19,"p":80},{"c":19,"p":85},{"c":19,"p":90},{"c":19,"p":95},{"c":19,"p":100},
{"c":20,"p":2},{"c":20,"p":6},{"c":20,"p":10},{"c":20,"p":15},{"c":20,"p":20},{"c":20,"p":24},{"c":20,"p":31},{"c":20,"p":36},{"c":20,"p":40},{"c":20,"p":44},{"c":20,"p":48},{"c":20,"p":53},{"c":20,"p":60},{"c":20,"p":68},{"c":20,"p":75},{"c":20,"p":82},{"c":20,"p":90},{"c":20,"p":99},
{"c":21,"p":2},{"c":21,"p":5},{"c":21,"p":9},{"c":21,"p":13},{"c":21,"p":18},{"c":21,"p":22},{"c":21,"p":27},{"c":21,"p":32},{"c":21,"p":37},{"c":21,"p":41},{"c":21,"p":46},{"c":21,"p":51},{"c":21,"p":55},{"c":21,"p":59},
{"c":22,"p":4},{"c":22,"p":8},{"c":22,"p":13},{"c":22,"p":19},{"c":22,"p":25},{"c":22,"p":30},{"c":22,"p":35},{"c":22,"p":41},{"c":22,"p":47}
]},
"spacing":8.25,
"hconcat":[
{"spacing":5,"vconcat":[
{"width":111,"height":73,"title":{"text":"Chrom \u00a01","dx":11},"resolve":{"axis":{"y":"independent"}},"layer":[
{"data":{"name":"curves"},"transform":[{"filter":"datum.c==1"}],"mark":{"type":"line","interpolate":"monotone","color":"#000","strokeWidth":1.1},"encoding":{"x":{"field":"p","type":"quantitative","scale":{"domain":[-11,291],"nice":false,"zero":false},"axis":{"values":[0,50,100,150,200,250],"labelOverlap":false,"labelSeparation":-20,"labelExpr":"datum.value==150||datum.value==250?'':datum.label","title":null}},"y":{"field":"v","type":"quantitative","scale":{"domain":[-0.22,4.18],"nice":false,"zero":false},"axis":{"values":[0,1,2,3,4],"title":null}},"strokeDash":{"field":"s","type":"nominal","scale":{"domain":["a","b"],"range":[[1,0],[5,2,1,2]]},"legend":null}}},
{"data":{"values":[{}]},"mark":{"type":"rule","strokeDash":[1,3],"color":"#555"},"encoding":{"y":{"datum":3,"axis":{"orient":"right","labels":false,"values":[0,1,2,3,4],"tickSize":2,"title":null}}}},
{"data":{"name":"markers"},"transform":[{"filter":"datum.c==1"}],"mark":{"type":"rule","color":"#000"},"encoding":{"x":{"field":"p","type":"quantitative","axis":{"values":[0,50,100,150,200,250],"labelOverlap":false,"labelSeparation":-20,"labelExpr":"datum.value==150||datum.value==250?'':datum.label","title":null}},"y":{"datum":-0.22,"axis":null},"y2":{"datum":0.02}}}]},
{"width":111,"height":73,"title":{"text":"Chrom \u00a06","dx":11},"resolve":{"axis":{"y":"independent"}},"layer":[
{"data":{"name":"curves"},"transform":[{"filter":"datum.c==6"}],"mark":{"type":"line","interpolate":"monotone","color":"#000","strokeWidth":1.1},"encoding":{"x":{"field":"p","type":"quantitative","scale":{"domain":[-7,193],"nice":false,"zero":false},"axis":{"values":[0,50,100,150],"labelOverlap":false,"labelSeparation":-20,"title":null}},"y":{"field":"v","type":"quantitative","scale":{"domain":[-0.22,4.18],"nice":false,"zero":false},"axis":{"values":[0,1,2,3,4],"title":null}},"strokeDash":{"field":"s","type":"nominal","scale":{"domain":["a","b"],"range":[[1,0],[5,2,1,2]]},"legend":null}}},
{"data":{"values":[{}]},"mark":{"type":"rule","strokeDash":[1,3],"color":"#555"},"encoding":{"y":{"datum":3,"axis":{"orient":"right","labels":false,"values":[0,1,2,3,4],"tickSize":2,"title":null}}}},
{"data":{"name":"markers"},"transform":[{"filter":"datum.c==6"}],"mark":{"type":"rule","color":"#000"},"encoding":{"x":{"field":"p","type":"quantitative","axis":{"values":[0,50,100,150],"labelOverlap":false,"labelSeparation":-20,"title":null}},"y":{"datum":-0.22,"axis":null},"y2":{"datum":0.02}}}]},
{"width":111,"height":73,"title":{"text":"Chrom \u00a011","dx":11},"resolve":{"axis":{"y":"independent"}},"layer":[
{"data":{"name":"curves"},"transform":[{"filter":"datum.c==11"}],"mark":{"type":"line","interpolate":"monotone","color":"#000","strokeWidth":1.1},"encoding":{"x":{"field":"p","type":"quantitative","scale":{"domain":[-6,158],"nice":false,"zero":false},"axis":{"values":[0,50,100,150],"labelOverlap":false,"labelSeparation":-20,"title":null}},"y":{"field":"v","type":"quantitative","scale":{"domain":[-0.22,4.18],"nice":false,"zero":false},"axis":{"values":[0,1,2,3,4],"title":"-log(p-value)"}},"strokeDash":{"field":"s","type":"nominal","scale":{"domain":["a","b"],"range":[[1,0],[5,2,1,2]]},"legend":null}}},
{"data":{"values":[{}]},"mark":{"type":"rule","strokeDash":[1,3],"color":"#555"},"encoding":{"y":{"datum":3,"axis":{"orient":"right","labels":false,"values":[0,1,2,3,4],"tickSize":2,"title":null}}}},
{"data":{"name":"markers"},"transform":[{"filter":"datum.c==11"}],"mark":{"type":"rule","color":"#000"},"encoding":{"x":{"field":"p","type":"quantitative","axis":{"values":[0,50,100,150],"labelOverlap":false,"labelSeparation":-20,"title":null}},"y":{"datum":-0.22,"axis":null},"y2":{"datum":0.02}}}]},
{"width":111,"height":73,"title":{"text":"Chrom \u00a016","dx":11},"resolve":{"axis":{"y":"independent"}},"layer":[
{"data":{"name":"curves"},"transform":[{"filter":"datum.c==16"}],"mark":{"type":"line","interpolate":"monotone","color":"#000","strokeWidth":1.1},"encoding":{"x":{"field":"p","type":"quantitative","scale":{"domain":[-6,138],"nice":false,"zero":false},"axis":{"values":[0,20,40,60,80,100,120],"labelOverlap":false,"labelSeparation":-20,"labelExpr":"datum.value==100?'':datum.label","title":null}},"y":{"field":"v","type":"quantitative","scale":{"domain":[-0.22,4.18],"nice":false,"zero":false},"axis":{"values":[0,1,2,3,4],"title":null}},"strokeDash":{"field":"s","type":"nominal","scale":{"domain":["a","b"],"range":[[1,0],[5,2,1,2]]},"legend":null}}},
{"data":{"values":[{}]},"mark":{"type":"rule","strokeDash":[1,3],"color":"#555"},"encoding":{"y":{"datum":3,"axis":{"orient":"right","labels":false,"values":[0,1,2,3,4],"tickSize":2,"title":null}}}},
{"data":{"name":"markers"},"transform":[{"filter":"datum.c==16"}],"mark":{"type":"rule","color":"#000"},"encoding":{"x":{"field":"p","type":"quantitative","axis":{"values":[0,20,40,60,80,100,120],"labelOverlap":false,"labelSeparation":-20,"labelExpr":"datum.value==100?'':datum.label","title":null}},"y":{"datum":-0.22,"axis":null},"y2":{"datum":0.02}}}]},
{"width":111,"height":73,"title":{"text":"Chrom \u00a021","dx":11},"resolve":{"axis":{"y":"independent"}},"layer":[
{"data":{"name":"curves"},"transform":[{"filter":"datum.c==21"}],"mark":{"type":"line","interpolate":"monotone","color":"#000","strokeWidth":1.1},"encoding":{"x":{"field":"p","type":"quantitative","scale":{"domain":[-2.3,62.2],"nice":false,"zero":false},"axis":{"values":[0,10,20,30,40,50,60],"labelOverlap":false,"labelSeparation":-20,"title":"Distance (cM)"}},"y":{"field":"v","type":"quantitative","scale":{"domain":[-0.22,4.18],"nice":false,"zero":false},"axis":{"values":[0,1,2,3,4],"title":null}},"strokeDash":{"field":"s","type":"nominal","scale":{"domain":["a","b"],"range":[[1,0],[5,2,1,2]]},"legend":null}}},
{"data":{"values":[{}]},"mark":{"type":"rule","strokeDash":[1,3],"color":"#555"},"encoding":{"y":{"datum":3,"axis":{"orient":"right","labels":false,"values":[0,1,2,3,4],"tickSize":2,"title":null}}}},
{"data":{"name":"markers"},"transform":[{"filter":"datum.c==21"}],"mark":{"type":"rule","color":"#000"},"encoding":{"x":{"field":"p","type":"quantitative","axis":{"values":[0,10,20,30,40,50,60],"labelOverlap":false,"labelSeparation":-20,"title":"Distance (cM)"}},"y":{"datum":-0.22,"axis":null},"y2":{"datum":0.02}}}]}
]},
{"spacing":5,"vconcat":[
{"width":111,"height":73,"title":{"text":"Chrom \u00a02","dx":11},"resolve":{"axis":{"y":"independent"}},"layer":[
{"data":{"name":"curves"},"transform":[{"filter":"datum.c==2"}],"mark":{"type":"line","interpolate":"monotone","color":"#000","strokeWidth":1.1},"encoding":{"x":{"field":"p","type":"quantitative","scale":{"domain":[-12,272],"nice":false,"zero":false},"axis":{"values":[0,50,100,150,200,250],"labelOverlap":false,"labelSeparation":-20,"labelExpr":"datum.value==150||datum.value==250?'':datum.label","title":null}},"y":{"field":"v","type":"quantitative","scale":{"domain":[-0.22,4.18],"nice":false,"zero":false},"axis":null},"strokeDash":{"field":"s","type":"nominal","scale":{"domain":["a","b"],"range":[[1,0],[5,2,1,2]]},"legend":null}}},
{"data":{"values":[{}]},"mark":{"type":"rule","strokeDash":[1,3],"color":"#555"},"encoding":{"y":{"datum":3,"axis":{"orient":"right","labels":false,"values":[0,1,2,3,4],"tickSize":2,"title":null}}}},
{"data":{"name":"markers"},"transform":[{"filter":"datum.c==2"}],"mark":{"type":"rule","color":"#000"},"encoding":{"x":{"field":"p","type":"quantitative","axis":{"values":[0,50,100,150,200,250],"labelOverlap":false,"labelSeparation":-20,"labelExpr":"datum.value==150||datum.value==250?'':datum.label","title":null}},"y":{"datum":-0.22,"axis":null},"y2":{"datum":0.02}}}]},
{"width":111,"height":73,"title":{"text":"Chrom \u00a07","dx":11},"resolve":{"axis":{"y":"independent"}},"layer":[
{"data":{"name":"curves"},"transform":[{"filter":"datum.c==7"}],"mark":{"type":"line","interpolate":"monotone","color":"#000","strokeWidth":1.1},"encoding":{"x":{"field":"p","type":"quantitative","scale":{"domain":[-8,188],"nice":false,"zero":false},"axis":{"values":[0,50,100,150],"labelOverlap":false,"labelSeparation":-20,"title":null}},"y":{"field":"v","type":"quantitative","scale":{"domain":[-0.22,4.18],"nice":false,"zero":false},"axis":null},"strokeDash":{"field":"s","type":"nominal","scale":{"domain":["a","b"],"range":[[1,0],[5,2,1,2]]},"legend":null}}},
{"data":{"values":[{}]},"mark":{"type":"rule","strokeDash":[1,3],"color":"#555"},"encoding":{"y":{"datum":3,"axis":{"orient":"right","labels":false,"values":[0,1,2,3,4],"tickSize":2,"title":null}}}},
{"data":{"name":"markers"},"transform":[{"filter":"datum.c==7"}],"mark":{"type":"rule","color":"#000"},"encoding":{"x":{"field":"p","type":"quantitative","axis":{"values":[0,50,100,150],"labelOverlap":false,"labelSeparation":-20,"title":null}},"y":{"datum":-0.22,"axis":null},"y2":{"datum":0.02}}}]},
{"width":111,"height":73,"title":{"text":"Chrom \u00a012","dx":11},"resolve":{"axis":{"y":"independent"}},"layer":[
{"data":{"name":"curves"},"transform":[{"filter":"datum.c==12"}],"mark":{"type":"line","interpolate":"monotone","color":"#000","strokeWidth":1.1},"encoding":{"x":{"field":"p","type":"quantitative","scale":{"domain":[-7,169],"nice":false,"zero":false},"axis":{"values":[0,50,100,150],"labelOverlap":false,"labelSeparation":-20,"title":null}},"y":{"field":"v","type":"quantitative","scale":{"domain":[-0.22,4.18],"nice":false,"zero":false},"axis":null},"strokeDash":{"field":"s","type":"nominal","scale":{"domain":["a","b"],"range":[[1,0],[5,2,1,2]]},"legend":null}}},
{"data":{"values":[{}]},"mark":{"type":"rule","strokeDash":[1,3],"color":"#555"},"encoding":{"y":{"datum":3,"axis":{"orient":"right","labels":false,"values":[0,1,2,3,4],"tickSize":2,"title":null}}}},
{"data":{"name":"markers"},"transform":[{"filter":"datum.c==12"}],"mark":{"type":"rule","color":"#000"},"encoding":{"x":{"field":"p","type":"quantitative","axis":{"values":[0,50,100,150],"labelOverlap":false,"labelSeparation":-20,"title":null}},"y":{"datum":-0.22,"axis":null},"y2":{"datum":0.02}}}]},
{"width":111,"height":73,"title":{"text":"Chrom \u00a017","dx":11},"resolve":{"axis":{"y":"independent"}},"layer":[
{"data":{"name":"curves"},"transform":[{"filter":"datum.c==17"}],"mark":{"type":"line","interpolate":"monotone","color":"#000","strokeWidth":1.1},"encoding":{"x":{"field":"p","type":"quantitative","scale":{"domain":[-4,130],"nice":false,"zero":false},"axis":{"values":[0,20,40,60,80,100,120],"labelOverlap":false,"labelSeparation":-20,"labelExpr":"datum.value==100?'':datum.label","title":null}},"y":{"field":"v","type":"quantitative","scale":{"domain":[-0.22,4.18],"nice":false,"zero":false},"axis":null},"strokeDash":{"field":"s","type":"nominal","scale":{"domain":["a","b"],"range":[[1,0],[5,2,1,2]]},"legend":null}}},
{"data":{"values":[{}]},"mark":{"type":"rule","strokeDash":[1,3],"color":"#555"},"encoding":{"y":{"datum":3,"axis":{"orient":"right","labels":false,"values":[0,1,2,3,4],"tickSize":2,"title":null}}}},
{"data":{"name":"markers"},"transform":[{"filter":"datum.c==17"}],"mark":{"type":"rule","color":"#000"},"encoding":{"x":{"field":"p","type":"quantitative","axis":{"values":[0,20,40,60,80,100,120],"labelOverlap":false,"labelSeparation":-20,"labelExpr":"datum.value==100?'':datum.label","title":null}},"y":{"datum":-0.22,"axis":null},"y2":{"datum":0.02}}}]},
{"width":111,"height":73,"title":{"text":"Chrom \u00a022","dx":11},"resolve":{"axis":{"y":"independent"}},"layer":[
{"data":{"name":"curves"},"transform":[{"filter":"datum.c==22"}],"mark":{"type":"line","interpolate":"monotone","color":"#000","strokeWidth":1.1},"encoding":{"x":{"field":"p","type":"quantitative","scale":{"domain":[-2,49],"nice":false,"zero":false},"axis":{"values":[0,10,20,30,40],"labelOverlap":false,"labelSeparation":-20,"title":"Distance (cM)"}},"y":{"field":"v","type":"quantitative","scale":{"domain":[-0.22,4.18],"nice":false,"zero":false},"axis":null},"strokeDash":{"field":"s","type":"nominal","scale":{"domain":["a","b"],"range":[[1,0],[5,2,1,2]]},"legend":null}}},
{"data":{"values":[{}]},"mark":{"type":"rule","strokeDash":[1,3],"color":"#555"},"encoding":{"y":{"datum":3,"axis":{"orient":"right","labels":false,"values":[0,1,2,3,4],"tickSize":2,"title":null}}}},
{"data":{"name":"markers"},"transform":[{"filter":"datum.c==22"}],"mark":{"type":"rule","color":"#000"},"encoding":{"x":{"field":"p","type":"quantitative","axis":{"values":[0,10,20,30,40],"labelOverlap":false,"labelSeparation":-20,"title":"Distance (cM)"}},"y":{"datum":-0.22,"axis":null},"y2":{"datum":0.02}}}]}
]},
{"spacing":5,"vconcat":[
{"width":111,"height":73,"title":{"text":"Chrom \u00a03","dx":11},"resolve":{"axis":{"y":"independent"}},"layer":[
{"data":{"name":"curves"},"transform":[{"filter":"datum.c==3"}],"mark":{"type":"line","interpolate":"monotone","color":"#000","strokeWidth":1.1},"encoding":{"x":{"field":"p","type":"quantitative","scale":{"domain":[-12,231],"nice":false,"zero":false},"axis":{"values":[0,50,100,150,200],"labelOverlap":false,"labelSeparation":-20,"title":null}},"y":{"field":"v","type":"quantitative","scale":{"domain":[-0.22,4.18],"nice":false,"zero":false},"axis":null},"strokeDash":{"field":"s","type":"nominal","scale":{"domain":["a","b"],"range":[[1,0],[5,2,1,2]]},"legend":null}}},
{"data":{"values":[{}]},"mark":{"type":"rule","strokeDash":[1,3],"color":"#555"},"encoding":{"y":{"datum":3,"axis":{"orient":"right","labels":false,"values":[0,1,2,3,4],"tickSize":2,"title":null}}}},
{"data":{"name":"markers"},"transform":[{"filter":"datum.c==3"}],"mark":{"type":"rule","color":"#000"},"encoding":{"x":{"field":"p","type":"quantitative","axis":{"values":[0,50,100,150,200],"labelOverlap":false,"labelSeparation":-20,"title":null}},"y":{"datum":-0.22,"axis":null},"y2":{"datum":0.02}}}]},
{"width":111,"height":73,"title":{"text":"Chrom \u00a08","dx":11},"resolve":{"axis":{"y":"independent"}},"layer":[
{"data":{"name":"curves"},"transform":[{"filter":"datum.c==8"}],"mark":{"type":"line","interpolate":"monotone","color":"#000","strokeWidth":1.1},"encoding":{"x":{"field":"p","type":"quantitative","scale":{"domain":[-6.5,174],"nice":false,"zero":false},"axis":{"values":[0,50,100,150],"labelOverlap":false,"labelSeparation":-20,"title":null}},"y":{"field":"v","type":"quantitative","scale":{"domain":[-0.22,4.18],"nice":false,"zero":false},"axis":null},"strokeDash":{"field":"s","type":"nominal","scale":{"domain":["a","b"],"range":[[1,0],[5,2,1,2]]},"legend":null}}},
{"data":{"values":[{}]},"mark":{"type":"rule","strokeDash":[1,3],"color":"#555"},"encoding":{"y":{"datum":3,"axis":{"orient":"right","labels":false,"values":[0,1,2,3,4],"tickSize":2,"title":null}}}},
{"data":{"name":"markers"},"transform":[{"filter":"datum.c==8"}],"mark":{"type":"rule","color":"#000"},"encoding":{"x":{"field":"p","type":"quantitative","axis":{"values":[0,50,100,150],"labelOverlap":false,"labelSeparation":-20,"title":null}},"y":{"datum":-0.22,"axis":null},"y2":{"datum":0.02}}}]},
{"width":111,"height":73,"title":{"text":"Chrom \u00a013","dx":11},"resolve":{"axis":{"y":"independent"}},"layer":[
{"data":{"name":"curves"},"transform":[{"filter":"datum.c==13"}],"mark":{"type":"line","interpolate":"monotone","color":"#000","strokeWidth":1.1},"encoding":{"x":{"field":"p","type":"quantitative","scale":{"domain":[-4,105],"nice":false,"zero":false},"axis":{"values":[0,20,40,60,80,100],"labelOverlap":false,"labelSeparation":-20,"title":null}},"y":{"field":"v","type":"quantitative","scale":{"domain":[-0.22,4.18],"nice":false,"zero":false},"axis":null},"strokeDash":{"field":"s","type":"nominal","scale":{"domain":["a","b"],"range":[[1,0],[5,2,1,2]]},"legend":null}}},
{"data":{"values":[{}]},"mark":{"type":"rule","strokeDash":[1,3],"color":"#555"},"encoding":{"y":{"datum":3,"axis":{"orient":"right","labels":false,"values":[0,1,2,3,4],"tickSize":2,"title":null}}}},
{"data":{"name":"markers"},"transform":[{"filter":"datum.c==13"}],"mark":{"type":"rule","color":"#000"},"encoding":{"x":{"field":"p","type":"quantitative","axis":{"values":[0,20,40,60,80,100],"labelOverlap":false,"labelSeparation":-20,"title":null}},"y":{"datum":-0.22,"axis":null},"y2":{"datum":0.02}}}]},
{"width":111,"height":73,"title":{"text":"Chrom \u00a018","dx":11},"resolve":{"axis":{"y":"independent"}},"layer":[
{"data":{"name":"curves"},"transform":[{"filter":"datum.c==18"}],"mark":{"type":"line","interpolate":"monotone","color":"#000","strokeWidth":1.1},"encoding":{"x":{"field":"p","type":"quantitative","scale":{"domain":[-8,125],"nice":false,"zero":false},"axis":{"values":[0,20,40,60,80,100,120],"labelOverlap":false,"labelSeparation":-20,"labelExpr":"datum.value==100?'':datum.label","title":"Distance (cM)"}},"y":{"field":"v","type":"quantitative","scale":{"domain":[-0.22,4.18],"nice":false,"zero":false},"axis":null},"strokeDash":{"field":"s","type":"nominal","scale":{"domain":["a","b"],"range":[[1,0],[5,2,1,2]]},"legend":null}}},
{"data":{"values":[{}]},"mark":{"type":"rule","strokeDash":[1,3],"color":"#555"},"encoding":{"y":{"datum":3,"axis":{"orient":"right","labels":false,"values":[0,1,2,3,4],"tickSize":2,"title":null}}}},
{"data":{"name":"markers"},"transform":[{"filter":"datum.c==18"}],"mark":{"type":"rule","color":"#000"},"encoding":{"x":{"field":"p","type":"quantitative","axis":{"values":[0,20,40,60,80,100,120],"labelOverlap":false,"labelSeparation":-20,"labelExpr":"datum.value==100?'':datum.label","title":"Distance (cM)"}},"y":{"datum":-0.22,"axis":null},"y2":{"datum":0.02}}}]}
]},
{"spacing":5,"vconcat":[
{"width":111,"height":73,"title":{"text":"Chrom \u00a04","dx":11},"resolve":{"axis":{"y":"independent"}},"layer":[
{"data":{"name":"curves"},"transform":[{"filter":"datum.c==4"}],"mark":{"type":"line","interpolate":"monotone","color":"#000","strokeWidth":1.1},"encoding":{"x":{"field":"p","type":"quantitative","scale":{"domain":[-10,220],"nice":false,"zero":false},"axis":{"values":[0,50,100,150,200],"labelOverlap":false,"labelSeparation":-20,"title":null}},"y":{"field":"v","type":"quantitative","scale":{"domain":[-0.22,4.18],"nice":false,"zero":false},"axis":null},"strokeDash":{"field":"s","type":"nominal","scale":{"domain":["a","b"],"range":[[1,0],[5,2,1,2]]},"legend":null}}},
{"data":{"values":[{}]},"mark":{"type":"rule","strokeDash":[1,3],"color":"#555"},"encoding":{"y":{"datum":3,"axis":{"orient":"right","labels":false,"values":[0,1,2,3,4],"tickSize":2,"title":null}}}},
{"data":{"name":"markers"},"transform":[{"filter":"datum.c==4"}],"mark":{"type":"rule","color":"#000"},"encoding":{"x":{"field":"p","type":"quantitative","axis":{"values":[0,50,100,150,200],"labelOverlap":false,"labelSeparation":-20,"title":null}},"y":{"datum":-0.22,"axis":null},"y2":{"datum":0.02}}}]},
{"width":111,"height":73,"title":{"text":"Chrom \u00a09","dx":11},"resolve":{"axis":{"y":"independent"}},"layer":[
{"data":{"name":"curves"},"transform":[{"filter":"datum.c==9"}],"mark":{"type":"line","interpolate":"monotone","color":"#000","strokeWidth":1.1},"encoding":{"x":{"field":"p","type":"quantitative","scale":{"domain":[-8,178],"nice":false,"zero":false},"axis":{"values":[0,50,100,150],"labelOverlap":false,"labelSeparation":-20,"title":null}},"y":{"field":"v","type":"quantitative","scale":{"domain":[-0.22,4.18],"nice":false,"zero":false},"axis":null},"strokeDash":{"field":"s","type":"nominal","scale":{"domain":["a","b"],"range":[[1,0],[5,2,1,2]]},"legend":null}}},
{"data":{"values":[{}]},"mark":{"type":"rule","strokeDash":[1,3],"color":"#555"},"encoding":{"y":{"datum":3,"axis":{"orient":"right","labels":false,"values":[0,1,2,3,4],"tickSize":2,"title":null}}}},
{"data":{"name":"markers"},"transform":[{"filter":"datum.c==9"}],"mark":{"type":"rule","color":"#000"},"encoding":{"x":{"field":"p","type":"quantitative","axis":{"values":[0,50,100,150],"labelOverlap":false,"labelSeparation":-20,"title":null}},"y":{"datum":-0.22,"axis":null},"y2":{"datum":0.02}}}]},
{"width":111,"height":73,"title":{"text":"Chrom \u00a014","dx":11},"resolve":{"axis":{"y":"independent"}},"layer":[
{"data":{"name":"curves"},"transform":[{"filter":"datum.c==14"}],"mark":{"type":"line","interpolate":"monotone","color":"#000","strokeWidth":1.1},"encoding":{"x":{"field":"p","type":"quantitative","scale":{"domain":[-5,112],"nice":false,"zero":false},"axis":{"values":[0,20,40,60,80,100],"labelOverlap":false,"labelSeparation":-20,"title":null}},"y":{"field":"v","type":"quantitative","scale":{"domain":[-0.22,4.18],"nice":false,"zero":false},"axis":null},"strokeDash":{"field":"s","type":"nominal","scale":{"domain":["a","b"],"range":[[1,0],[5,2,1,2]]},"legend":null}}},
{"data":{"values":[{}]},"mark":{"type":"rule","strokeDash":[1,3],"color":"#555"},"encoding":{"y":{"datum":3,"axis":{"orient":"right","labels":false,"values":[0,1,2,3,4],"tickSize":2,"title":null}}}},
{"data":{"name":"markers"},"transform":[{"filter":"datum.c==14"}],"mark":{"type":"rule","color":"#000"},"encoding":{"x":{"field":"p","type":"quantitative","axis":{"values":[0,20,40,60,80,100],"labelOverlap":false,"labelSeparation":-20,"title":null}},"y":{"datum":-0.22,"axis":null},"y2":{"datum":0.02}}}]},
{"width":111,"height":73,"title":{"text":"Chrom \u00a019","dx":11},"resolve":{"axis":{"y":"independent"}},"layer":[
{"data":{"name":"curves"},"transform":[{"filter":"datum.c==19"}],"mark":{"type":"line","interpolate":"monotone","color":"#000","strokeWidth":1.1},"encoding":{"x":{"field":"p","type":"quantitative","scale":{"domain":[-3.5,103],"nice":false,"zero":false},"axis":{"values":[0,20,40,60,80,100],"labelOverlap":false,"labelSeparation":-20,"title":"Distance (cM)"}},"y":{"field":"v","type":"quantitative","scale":{"domain":[-0.22,4.18],"nice":false,"zero":false},"axis":null},"strokeDash":{"field":"s","type":"nominal","scale":{"domain":["a","b"],"range":[[1,0],[5,2,1,2]]},"legend":null}}},
{"data":{"values":[{}]},"mark":{"type":"rule","strokeDash":[1,3],"color":"#555"},"encoding":{"y":{"datum":3,"axis":{"orient":"right","labels":false,"values":[0,1,2,3,4],"tickSize":2,"title":null}}}},
{"data":{"name":"markers"},"transform":[{"filter":"datum.c==19"}],"mark":{"type":"rule","color":"#000"},"encoding":{"x":{"field":"p","type":"quantitative","axis":{"values":[0,20,40,60,80,100],"labelOverlap":false,"labelSeparation":-20,"title":"Distance (cM)"}},"y":{"datum":-0.22,"axis":null},"y2":{"datum":0.02}}}]}
]},
{"spacing":5,"vconcat":[
{"width":111,"height":73,"title":{"text":"Chrom \u00a05","dx":11},"resolve":{"axis":{"y":"independent"}},"layer":[
{"data":{"name":"curves"},"transform":[{"filter":"datum.c==5"}],"mark":{"type":"line","interpolate":"monotone","color":"#000","strokeWidth":1.1},"encoding":{"x":{"field":"p","type":"quantitative","scale":{"domain":[-9,209],"nice":false,"zero":false},"axis":{"values":[0,50,100,150,200],"labelOverlap":false,"labelSeparation":-20,"title":null}},"y":{"field":"v","type":"quantitative","scale":{"domain":[-0.22,4.18],"nice":false,"zero":false},"axis":null},"strokeDash":{"field":"s","type":"nominal","scale":{"domain":["a","b"],"range":[[1,0],[5,2,1,2]]},"legend":null}}},
{"data":{"values":[{}]},"mark":{"type":"rule","strokeDash":[1,3],"color":"#555"},"encoding":{"y":{"datum":3,"axis":{"orient":"right","labels":false,"values":[0,1,2,3,4],"tickSize":2,"title":null}}}},
{"data":{"name":"markers"},"transform":[{"filter":"datum.c==5"}],"mark":{"type":"rule","color":"#000"},"encoding":{"x":{"field":"p","type":"quantitative","axis":{"values":[0,50,100,150,200],"labelOverlap":false,"labelSeparation":-20,"title":null}},"y":{"datum":-0.22,"axis":null},"y2":{"datum":0.02}}}]},
{"width":111,"height":73,"title":{"text":"Chrom \u00a010","dx":11},"resolve":{"axis":{"y":"independent"}},"layer":[
{"data":{"name":"curves"},"transform":[{"filter":"datum.c==10"}],"mark":{"type":"line","interpolate":"monotone","color":"#000","strokeWidth":1.1},"encoding":{"x":{"field":"p","type":"quantitative","scale":{"domain":[-6,183],"nice":false,"zero":false},"axis":{"values":[0,50,100,150],"labelOverlap":false,"labelSeparation":-20,"title":null}},"y":{"field":"v","type":"quantitative","scale":{"domain":[-0.22,4.18],"nice":false,"zero":false},"axis":null},"strokeDash":{"field":"s","type":"nominal","scale":{"domain":["a","b"],"range":[[1,0],[5,2,1,2]]},"legend":null}}},
{"data":{"values":[{}]},"mark":{"type":"rule","strokeDash":[1,3],"color":"#555"},"encoding":{"y":{"datum":3,"axis":{"orient":"right","labels":false,"values":[0,1,2,3,4],"tickSize":2,"title":null}}}},
{"data":{"name":"markers"},"transform":[{"filter":"datum.c==10"}],"mark":{"type":"rule","color":"#000"},"encoding":{"x":{"field":"p","type":"quantitative","axis":{"values":[0,50,100,150],"labelOverlap":false,"labelSeparation":-20,"title":null}},"y":{"datum":-0.22,"axis":null},"y2":{"datum":0.02}}}]},
{"width":111,"height":73,"title":{"text":"Chrom \u00a015","dx":11},"resolve":{"axis":{"y":"independent"}},"layer":[
{"data":{"name":"curves"},"transform":[{"filter":"datum.c==15"}],"mark":{"type":"line","interpolate":"monotone","color":"#000","strokeWidth":1.1},"encoding":{"x":{"field":"p","type":"quantitative","scale":{"domain":[-4.5,127],"nice":false,"zero":false},"axis":{"values":[0,20,40,60,80,100,120],"labelOverlap":false,"labelSeparation":-20,"labelExpr":"datum.value==100?'':datum.label","title":null}},"y":{"field":"v","type":"quantitative","scale":{"domain":[-0.22,4.18],"nice":false,"zero":false},"axis":null},"strokeDash":{"field":"s","type":"nominal","scale":{"domain":["a","b"],"range":[[1,0],[5,2,1,2]]},"legend":null}}},
{"data":{"values":[{}]},"mark":{"type":"rule","strokeDash":[1,3],"color":"#555"},"encoding":{"y":{"datum":3,"axis":{"orient":"right","labels":false,"values":[0,1,2,3,4],"tickSize":2,"title":null}}}},
{"data":{"name":"markers"},"transform":[{"filter":"datum.c==15"}],"mark":{"type":"rule","color":"#000"},"encoding":{"x":{"field":"p","type":"quantitative","axis":{"values":[0,20,40,60,80,100,120],"labelOverlap":false,"labelSeparation":-20,"labelExpr":"datum.value==100?'':datum.label","title":null}},"y":{"datum":-0.22,"axis":null},"y2":{"datum":0.02}}}]},
{"width":111,"height":73,"title":{"text":"Chrom \u00a020","dx":11},"resolve":{"axis":{"y":"independent"}},"layer":[
{"data":{"name":"curves"},"transform":[{"filter":"datum.c==20"}],"mark":{"type":"line","interpolate":"monotone","color":"#000","strokeWidth":1.1},"encoding":{"x":{"field":"p","type":"quantitative","scale":{"domain":[-8,105],"nice":false,"zero":false},"axis":{"values":[0,20,40,60,80],"labelOverlap":false,"labelSeparation":-20,"title":"Distance (cM)"}},"y":{"field":"v","type":"quantitative","scale":{"domain":[-0.22,4.18],"nice":false,"zero":false},"axis":null},"strokeDash":{"field":"s","type":"nominal","scale":{"domain":["a","b"],"range":[[1,0],[5,2,1,2]]},"legend":null}}},
{"data":{"values":[{}]},"mark":{"type":"rule","strokeDash":[1,3],"color":"#555"},"encoding":{"y":{"datum":3,"axis":{"orient":"right","labels":false,"values":[0,1,2,3,4],"tickSize":2,"title":null}}}},
{"data":{"name":"markers"},"transform":[{"filter":"datum.c==20"}],"mark":{"type":"rule","color":"#000"},"encoding":{"x":{"field":"p","type":"quantitative","axis":{"values":[0,20,40,60,80],"labelOverlap":false,"labelSeparation":-20,"title":"Distance (cM)"}},"y":{"datum":-0.22,"axis":null},"y2":{"datum":0.02}}}]}
]}
]
}
